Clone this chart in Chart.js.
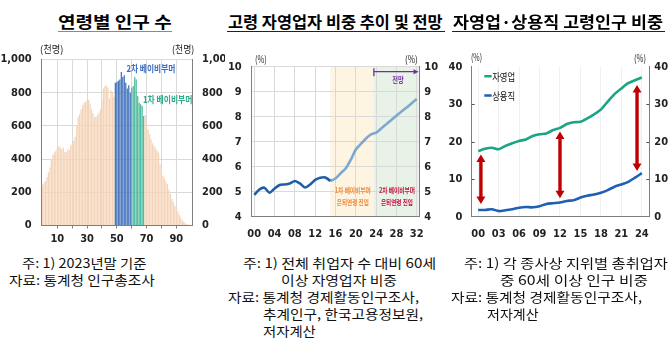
<!DOCTYPE html>
<html>
<head>
<meta charset="utf-8">
<script src="https://cdn.jsdelivr.net/npm/chart.js@4.4.1/dist/chart.umd.min.js"></script>
<style>
  body { margin: 0; width: 670px; height: 342px; background: #fff; position: relative; overflow: hidden;
         font-family: "Noto Sans CJK KR", "Noto Sans", sans-serif; color: #111; }
  .t { position: absolute; white-space: nowrap; line-height: 1; transform-origin: 0 50%; }
  .title { font-weight: 700; font-size: 16px; color: #000; }
  .note { font-size: 13px; color: #111; }
  .unit { font-size: 10px; color: #222; }
  .rule { position: absolute; }
  .box { position: absolute; top: 40px; width: 225px; height: 210px; }
</style>
</head>
<body>
<div class="box" style="left:0px"><canvas id="chartAge" width="225" height="210"></canvas></div>
<div class="box" style="left:225px"><canvas id="chartOutlook" width="225" height="210"></canvas></div>
<div class="box" style="left:445px"><canvas id="chartStatus" width="225" height="210"></canvas></div>
<script>
// ---- data ----
// 연령별 인구 (천명), 0세 ~ 100세
const ages = Array.from({ length: 101 }, (_, i) => i);
const population = [
  245, 255, 268, 290, 320, 350, 395, 425, 440, 450,
  465, 478, 470, 458, 468, 445, 442, 460, 455, 480,
  495, 510, 535, 600, 655, 670, 700, 725, 740, 745,
  755, 758, 735, 700, 675, 655, 655, 665, 680, 700,
  760, 825, 840, 845, 830, 765, 815, 805, 775,
  860, 865, 872, 880, 925, 895, 905, 860, 825, 845, 800,
  830, 840, 895, 880, 780, 740, 730, 720, 660,
  665, 615, 580, 550, 520, 495, 480, 465, 450, 440, 370,
  330, 300, 285, 265, 250, 215, 190, 160, 140, 118,
  100, 85, 62, 48, 32, 22, 14, 9, 6, 4, 3
];
const secondBoomerAges = [49, 59];
const firstBoomerAges = [60, 68];
const ageTickLabels = [10, 30, 50, 70, 90];
const popTicks = [0, 200, 400, 600, 800, 1000];

// 고령 자영업자 비중 (%), 2000 ~ 2032 (2024년 이후 전망)
const outlookYears = [0, 1, 2, 3, 4, 5, 6, 7, 8, 9, 10, 11, 12, 13, 14, 15, 16,
  17, 18, 19, 20, 21, 22, 23, 24, 25, 26, 27, 28, 29, 30, 31, 32];
const seniorSelfEmpShare = [
  4.87, 5.09, 5.16, 4.96, 5.13, 5.27, 5.29, 5.33, 5.43, 5.33, 5.17,
  5.29, 5.47, 5.56, 5.57, 5.43, 5.53, 5.73, 5.93, 6.27, 6.69, 6.91,
  7.13, 7.29, 7.36, 7.53, 7.70, 7.87, 8.04, 8.21, 8.37, 8.54, 8.71
];
const outlookTicks = [0, 4, 8, 12, 16, 20, 24, 28, 32];

// 종사상 지위별 60세 이상 비중 (%), 2000 ~ 2024
const statusYears = [0, 1, 2, 3, 4, 5, 6, 7, 8, 9, 10, 11, 12, 13, 14, 15, 16,
  17, 18, 19, 20, 21, 22, 23, 24];
const selfEmployed = [17.5, 18.1, 18.4, 18.0, 18.9, 19.6, 20.2, 20.6, 21.5, 22.0, 22.2, 23.1,
  23.7, 24.7, 25.2, 25.3, 26.2, 27.3, 28.6, 30.7, 32.7, 34.2, 35.6, 36.4, 37.1];
const regularEmployed = [1.8, 1.8, 2.0, 1.5, 1.7, 2.0, 2.4, 2.6, 2.5, 2.8, 3.4, 3.6,
  3.8, 4.2, 4.4, 5.1, 5.6, 5.9, 6.4, 7.1, 8.0, 8.6, 9.3, 10.4, 11.6];
const statusTicks = [0, 3, 6, 9, 12, 15, 18, 21, 24];

// ---- common ----
const tickFont = { family: '"Liberation Sans Narrow", "DejaVu Sans Condensed", "Liberation Sans", sans-serif', size: 11, weight: 'bold' };
const axisGray = '#7f7f7f';
const gridGray = '#d9d9d9';
const yy = (v) => String(v).padStart(2, '0');

function fitText(ctx, text, cx, cy, w, font, color) {
  ctx.save();
  ctx.font = font;
  const m = ctx.measureText(text).width;
  ctx.translate(cx, cy);
  ctx.scale(w / m, 1);
  ctx.fillStyle = color;
  ctx.textAlign = 'center';
  ctx.textBaseline = 'middle';
  ctx.fillText(text, 0, 0);
  ctx.restore();
}

const baseOptions = (padTop) => ({
  responsive: false,
  animation: false,
  events: [],
  devicePixelRatio: 1,
  layout: { padding: { top: padTop, left: 0, right: 0, bottom: 0 } },
  plugins: { legend: { display: false }, tooltip: { enabled: false } },
});

// ---- 연령별 인구 수 ----
const ageColor = (c) => {
  const a = c.dataIndex;
  if (a >= secondBoomerAges[0] && a <= secondBoomerAges[1]) return '#4675bf';
  if (a >= firstBoomerAges[0] && a <= firstBoomerAges[1]) return '#50bb9e';
  return '#f4d4b8';
};

const ageLabels = {
  id: 'ageLabels',
  afterDatasetsDraw(chart) {
    const ctx = chart.ctx, x = chart.scales.x, y = chart.scales.y;
    fitText(ctx, '2차 베이비부머', x.getPixelForValue(72.9), y.getPixelForValue(945), 49,
      'bold 9.5px "Noto Sans CJK KR"', '#3a6cc0');
    fitText(ctx, '1차 베이비부머', x.getPixelForValue(84.2), y.getPixelForValue(757), 49.5,
      'bold 9.5px "Noto Sans CJK KR"', '#2fa888');
  }
};

new Chart(document.getElementById('chartAge'), {
  type: 'bar',
  data: {
    labels: ages,
    datasets: [{ data: population, backgroundColor: ageColor, borderWidth: 0,
      barPercentage: 0.85, categoryPercentage: 1 }]
  },
  options: {
    ...baseOptions(19.5),
    scales: {
      x: {
        grid: {
          offset: false,
          color: (c) => (c.index % 10 === 0 && c.index > 0 && c.index < 100) ? gridGray : 'rgba(0,0,0,0)',
          tickColor: (c) => (c.index % 10 === 0 && c.index > 0 && c.index < 100) ? axisGray : 'rgba(0,0,0,0)',
          tickLength: 3
        },
        border: { color: axisGray },
        ticks: { autoSkip: false, maxRotation: 0, padding: 4, font: tickFont, color: '#222',
          callback: (v, i) => ageTickLabels.includes(i) ? String(i) : '' },
        afterFit: (s) => { s.height = 24.5; }
      },
      y: {
        position: 'left', min: 0, max: 1000,
        afterBuildTicks: (s) => { s.ticks = popTicks.map((v) => ({ value: v })); },
        ticks: { padding: 10, font: tickFont, color: '#222', callback: (v) => v.toLocaleString('en-US') },
        grid: { color: gridGray, drawTicks: false },
        border: { color: axisGray },
        afterFit: (s) => { s.width = 41.7; }
      },
      y2: {
        position: 'right', min: 0, max: 1000,
        afterBuildTicks: (s) => { s.ticks = popTicks.map((v) => ({ value: v })); },
        ticks: { padding: 10, font: tickFont, color: '#222', callback: (v) => v.toLocaleString('en-US') },
        grid: { display: false, drawTicks: false },
        border: { color: axisGray },
        afterFit: (s) => { s.width = 33; }
      }
    }
  },
  plugins: [ageLabels]
});

// ---- 고령 자영업자 비중 추이 및 전망 ----
const outlookDecor = {
  id: 'outlookDecor',
  beforeDraw(chart) {
    const ctx = chart.ctx, x = chart.scales.x, a = chart.chartArea;
    ctx.save();
    ctx.fillStyle = '#fdf4e2';
    ctx.fillRect(x.getPixelForValue(15), a.top, x.getPixelForValue(23.5) - x.getPixelForValue(15), a.bottom - a.top);
    ctx.fillStyle = '#e9f2e7';
    ctx.fillRect(x.getPixelForValue(23.5), a.top, a.right - x.getPixelForValue(23.5), a.bottom - a.top);
    ctx.restore();
  },
  afterDatasetsDraw(chart) {
    const ctx = chart.ctx, x = chart.scales.x, y = chart.scales.y;
    const x0 = x.getPixelForValue(23.55), x1 = x.getPixelForValue(32.35), ya = y.getPixelForValue(9.8);
    ctx.save();
    ctx.strokeStyle = '#7030a0';
    ctx.fillStyle = '#7030a0';
    ctx.lineWidth = 1.3;
    ctx.beginPath();
    ctx.moveTo(x0, y.getPixelForValue(9.94)); ctx.lineTo(x0, y.getPixelForValue(9.62));
    ctx.moveTo(x0, ya); ctx.lineTo(x1 - 4, ya);
    ctx.stroke();
    ctx.beginPath();
    ctx.moveTo(x1, ya); ctx.lineTo(x1 - 5, ya - 2.5); ctx.lineTo(x1 - 5, ya + 2.5); ctx.closePath();
    ctx.fill();
    ctx.restore();
    fitText(ctx, '전망', x.getPixelForValue(28.3), y.getPixelForValue(9.47), 11.5, 'bold 7.5px "Noto Sans CJK KR"', '#7030a0');
    const f = 'bold 7px "Noto Sans CJK KR"';
    fitText(ctx, '1차 베이비부머', x.getPixelForValue(19.4), y.getPixelForValue(5.04), 36, f, '#ef8a3c');
    fitText(ctx, '은퇴연령 진입', x.getPixelForValue(19.4), y.getPixelForValue(4.59), 32, f, '#ef8a3c');
    fitText(ctx, '2차 베이비부머', x.getPixelForValue(28.1), y.getPixelForValue(5.04), 36, f, '#c0143c');
    fitText(ctx, '은퇴연령 진입', x.getPixelForValue(28.1), y.getPixelForValue(4.59), 32, f, '#c0143c');
  }
};

const actualPts = outlookYears.slice(0, 16).map((yr, i) => ({ x: yr, y: seniorSelfEmpShare[i] }));
const projPts = outlookYears.slice(15).map((yr, i) => ({ x: yr, y: seniorSelfEmpShare[i + 15] }));

new Chart(document.getElementById('chartOutlook'), {
  type: 'line',
  data: {
    datasets: [
      { data: actualPts, borderColor: '#1f5fa8', borderWidth: 2.6, pointRadius: 0, tension: 0.25 },
      { data: projPts, borderColor: '#7ea8d0', borderWidth: 2.6, pointRadius: 0, tension: 0.25 }
    ]
  },
  options: {
    ...baseOptions(26.7),
    scales: {
      x: {
        type: 'linear', min: -0.5, max: 32.5,
        afterBuildTicks: (s) => { s.ticks = outlookTicks.map((v) => ({ value: v })); },
        ticks: { padding: 11, font: tickFont, color: '#222', callback: yy },
        grid: { color: gridGray, drawTicks: false },
        border: { color: axisGray },
        afterFit: (s) => { s.height = 33.3; }
      },
      y: {
        position: 'left', min: 4, max: 10,
        ticks: { stepSize: 1, padding: 10, font: tickFont, color: '#222' },
        grid: { color: gridGray, drawTicks: false },
        border: { color: axisGray },
        afterFit: (s) => { s.width = 26.7; }
      },
      y2: {
        position: 'right', min: 4, max: 10,
        ticks: { stepSize: 1, padding: 5, font: tickFont, color: '#222' },
        grid: { display: false, drawTicks: false },
        border: { color: axisGray },
        afterFit: (s) => { s.width = 30.7; }
      }
    }
  },
  plugins: [outlookDecor]
});

// ---- 자영업·상용직 고령인구 비중 ----
function doubleArrow(ctx, px, pTop, pBot) {
  const hw = 4.5, hl = 7.5;
  ctx.save();
  ctx.fillStyle = '#c00000';
  ctx.strokeStyle = '#c00000';
  ctx.lineWidth = 3.4;
  ctx.beginPath();
  ctx.moveTo(px, pTop + hl - 1); ctx.lineTo(px, pBot - hl + 1);
  ctx.stroke();
  ctx.beginPath();
  ctx.moveTo(px, pTop); ctx.lineTo(px - hw, pTop + hl); ctx.lineTo(px + hw, pTop + hl); ctx.closePath();
  ctx.moveTo(px, pBot); ctx.lineTo(px - hw, pBot - hl); ctx.lineTo(px + hw, pBot - hl); ctx.closePath();
  ctx.fill();
  ctx.restore();
}

const statusDecor = {
  id: 'statusDecor',
  afterDatasetsDraw(chart) {
    const ctx = chart.ctx, x = chart.scales.x, y = chart.scales.y, a = chart.chartArea;
    // inward tick marks
    ctx.save();
    ctx.strokeStyle = '#555';
    ctx.lineWidth = 1;
    ctx.beginPath();
    [10, 20, 30].forEach((v) => {
      const p = Math.round(y.getPixelForValue(v)) + 0.5;
      ctx.moveTo(a.left, p); ctx.lineTo(a.left + 3, p);
      ctx.moveTo(a.right, p); ctx.lineTo(a.right - 3, p);
    });
    ctx.stroke();
    ctx.restore();

    doubleArrow(ctx, x.getPixelForValue(0.4), y.getPixelForValue(16.6), y.getPixelForValue(3.4));
    doubleArrow(ctx, x.getPixelForValue(12.0), y.getPixelForValue(22.7), y.getPixelForValue(4.9));
    doubleArrow(ctx, x.getPixelForValue(23.3), y.getPixelForValue(35.1), y.getPixelForValue(12.2));

    // legend
    const items = [['자영업', '#1ba585', 9.5], ['상용직', '#1f5fb4', 28.8]];
    items.forEach(([label, color, dy]) => {
      const ly = a.top + dy;
      ctx.save();
      ctx.strokeStyle = color;
      ctx.lineWidth = 2.5;
      ctx.beginPath();
      ctx.moveTo(a.left + 12.6, ly); ctx.lineTo(a.left + 20, ly);
      ctx.stroke();
      ctx.restore();
      fitText(ctx, label, a.left + 20.5 + 11.5, ly + 0.5, 23, '10.5px "Noto Sans CJK KR"', '#111');
    });
  }
};

new Chart(document.getElementById('chartStatus'), {
  type: 'line',
  data: {
    datasets: [
      { data: statusYears.map((yr, i) => ({ x: yr, y: selfEmployed[i] })),
        borderColor: '#1ba585', borderWidth: 2.6, pointRadius: 0, tension: 0.25 },
      { data: statusYears.map((yr, i) => ({ x: yr, y: regularEmployed[i] })),
        borderColor: '#1f5fb4', borderWidth: 2.6, pointRadius: 0, tension: 0.25 }
    ]
  },
  options: {
    ...baseOptions(26.7),
    scales: {
      x: {
        type: 'linear', min: -0.95, max: 25.1,
        afterBuildTicks: (s) => { s.ticks = statusTicks.map((v) => ({ value: v })); },
        ticks: { padding: 11, font: tickFont, color: '#222', callback: yy },
        grid: { color: '#f0f0f0', drawTicks: false },
        border: { color: axisGray },
        afterFit: (s) => { s.height = 33.3; }
      },
      y: {
        position: 'left', min: 0, max: 40,
        ticks: { stepSize: 10, padding: 9.4, font: tickFont, color: '#222' },
        grid: { display: false, drawTicks: false },
        border: { color: axisGray },
        afterFit: (s) => { s.width = 26.7; }
      },
      y2: {
        position: 'right', min: 0, max: 40,
        ticks: { stepSize: 10, padding: 5, font: tickFont, color: '#222' },
        grid: { display: false, drawTicks: false },
        border: { color: axisGray },
        afterFit: (s) => { s.width = 20.7; }
      }
    }
  },
  plugins: [statusDecor]
});

// ---- titles, units, notes (HTML text) ----
const textItems = [
  ['연령별 인구 수', 58, 171.7, 22, 'title'],
  ['고령 자영업자 비중 추이 및 전망', 227.7, 442.3, 22, 'title'],
  ['자영업·상용직 고령인구 비중', 453.3, 663.3, 22, 'title'],
  ['(천명)', 40, 63.3, 50, 'unit'],
  ['(천명)', 171.7, 194, 50, 'unit'],
  ['(%)', 255, 266.7, 60, 'unit'],
  ['(%)', 405, 417.7, 60, 'unit'],
  ['(%)', 471, 482, 58, 'unit'],
  ['(%)', 634, 646, 59, 'unit'],
  ['주: 1) 2023년말 기준', 21.5, 146, 263, 'note'],
  ['자료: 통계청 인구총조사', 8.6, 154.5, 280, 'note'],
  ['주: 1) 전체 취업자 수 대비 60세', 242.5, 435.6, 263, 'note'],
  ['이상 자영업자 비중', 281, 397, 280, 'note'],
  ['자료: 통계청 경제활동인구조사,', 227.5, 418.5, 297, 'note'],
  ['추계인구, 한국고용정보원,', 262.7, 422.7, 314, 'note'],
  ['저자계산', 262.7, 315.5, 331, 'note'],
  ['주: 1) 각 종사상 지위별 총취업자', 463.5, 667.4, 263, 'note'],
  ['중 60세 이상 인구 비중', 500, 648, 280, 'note'],
  ['자료: 통계청 경제활동인구조사,', 450.6, 641.6, 297, 'note'],
  ['저자계산', 487, 538.6, 314, 'note']
];
textItems.forEach(([txt, x0, x1, yc, cls]) => {
  const el = document.createElement('div');
  el.className = 't ' + cls;
  el.textContent = txt;
  document.body.appendChild(el);
  const fs = parseFloat(getComputedStyle(el).fontSize);
  el.style.left = x0 + 'px';
  el.style.top = (yc - fs * 0.556) + 'px';
  const w = el.getBoundingClientRect().width;
  el.style.transform = 'scaleX(' + ((x1 - x0) / w) + ')';
});

const rules = [
  [58, 171.7, 31.2, '#8a8a8a', 1.2],
  [226.7, 445, 31.2, '#222', 1.3],
  [451.7, 665, 30.7, '#222', 1.3]
];
rules.forEach(([x0, x1, y, color, h]) => {
  const el = document.createElement('div');
  el.className = 'rule';
  el.style.left = x0 + 'px';
  el.style.width = (x1 - x0) + 'px';
  el.style.top = y + 'px';
  el.style.height = h + 'px';
  el.style.background = color;
  document.body.appendChild(el);
});
</script>
</body>
</html>
